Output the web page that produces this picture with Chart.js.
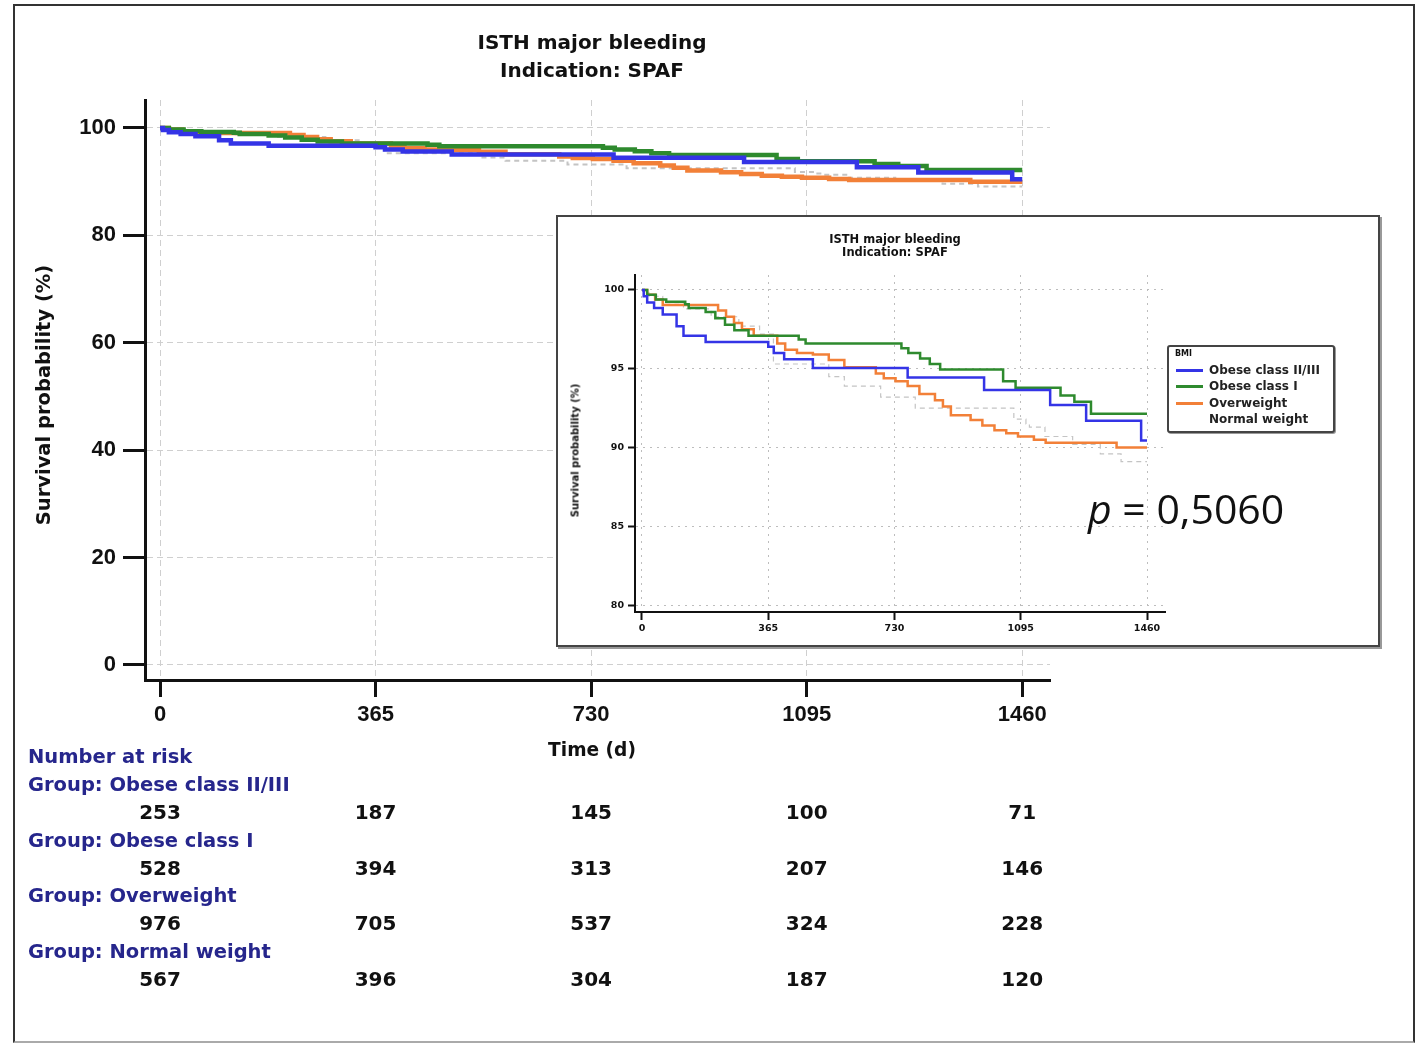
<!DOCTYPE html>
<html>
<head>
<meta charset="utf-8">
<script src="https://cdn.jsdelivr.net/npm/chart.js@4.4.1/dist/chart.umd.min.js"></script>
<style>
body{margin:0;background:#fff;font-family:"DejaVu Sans",Verdana,sans-serif;}
#page{position:relative;width:1427px;height:1045px;overflow:hidden;background:#fff;}
.abs{position:absolute;}
.frame{left:13px;top:4px;width:1398px;height:1035px;border:2px solid #333;border-bottom-color:#aaa;}
.title{left:342px;top:28px;width:500px;text-align:center;font-weight:bold;font-size:20px;line-height:28px;color:#111;}
.ytitle{left:-156px;top:383px;width:400px;height:24px;line-height:24px;text-align:center;font-weight:bold;font-size:19.5px;color:#111;transform:rotate(-90deg);}
.xtitle{left:492px;top:738px;width:200px;text-align:center;font-weight:bold;font-size:18.6px;line-height:24px;color:#111;}
.risk{font-weight:bold;font-size:19.5px;line-height:24px;color:#26268c;white-space:nowrap;}
.num{font-weight:bold;font-size:20px;line-height:24px;color:#111;transform:translateX(-50%);}
.inbox{left:556px;top:215px;width:820px;height:428px;border:2px solid #444;background:#fff;box-shadow:2px 2px 0 #999;}
.intitle{left:795px;top:233px;width:200px;text-align:center;font-weight:bold;font-size:11.5px;line-height:13px;color:#111;}
.inytitle{left:475px;top:444px;width:200px;height:13px;line-height:13px;text-align:center;font-weight:bold;font-size:10px;color:#111;transform:rotate(-90deg);}
.legend{left:1167px;top:345px;width:164px;height:84px;border:2px solid #444;border-radius:3px;box-shadow:1px 1px 0 #999;background:#fff;}
.legend .lt{position:absolute;left:6px;top:2px;font-weight:bold;font-size:8px;color:#111;}
.legend .row{position:absolute;left:7px;height:16px;width:156px;}
.legend .sw{position:absolute;left:0;top:7px;width:27px;height:3px;}
.legend .tx{position:absolute;left:33px;top:0;font-weight:bold;font-size:12px;line-height:16px;color:#222;white-space:nowrap;}
.pval{left:1088px;top:488px;font-family:"Open Sans","Noto Sans",sans-serif;font-size:41px;line-height:41px;color:#111;white-space:nowrap;}
</style>
</head>
<body>
<div id="page">
  <div class="abs frame"></div>
  <div class="abs" style="left:0;top:0;width:1427px;height:1045px;"><canvas id="main"></canvas></div>
  <div class="abs title">ISTH major bleeding<br>Indication: SPAF</div>
  <div class="abs ytitle">Survival probability (%)</div>
  <div class="abs xtitle">Time (d)</div>
  <div id="table"></div>

  <div class="abs inbox"></div>
  <div class="abs" style="left:556px;top:215px;width:824px;height:432px;"><canvas id="inset"></canvas></div>
  <div class="abs intitle">ISTH major bleeding<br>Indication: SPAF</div>
  <div class="abs inytitle">Survival probability (%)</div>
  <div class="abs legend" id="legend"><div class="lt">BMI</div></div>
  <div class="abs pval"><i>p</i> = 0,5060</div>
</div>
<script>
// axis ticks
const timeTicks = [0, 365, 730, 1095, 1460]
const survTicks = [0, 20, 40, 60, 80, 100]
const insetTicks = [80, 85, 90, 95, 100]

const groups = ['Obese class II/III', 'Obese class I', 'Overweight', 'Normal weight']
const colors = ['#3434e6', '#2e8a2e', '#f28038', '#c4c4c4']

// Kaplan-Meier steps (time in days, survival %)
const obese23T = [0, 5, 15, 35, 60, 100, 120, 184, 365, 381, 411, 494, 768, 989, 1180, 1284, 1443, 1460]
const obese23S = [100, 99.6, 99.2, 98.85, 98.45, 97.7, 97.1, 96.7, 96.4, 96.0, 95.6, 95.05, 94.45, 93.65, 92.7, 91.7, 90.45, 90.45]

const obese1T = [0, 15, 40, 70, 125, 135, 184, 212, 240, 267, 308, 453, 473, 750, 770, 804, 832, 862, 1044, 1080, 1210, 1250, 1298, 1460]
const obese1S = [100, 99.7, 99.4, 99.25, 99.1, 98.85, 98.6, 98.2, 97.8, 97.45, 97.1, 96.85, 96.6, 96.3, 96.0, 95.65, 95.3, 94.95, 94.2, 93.8, 93.3, 92.9, 92.15, 92.15]

const overT = [0, 15, 38, 60, 220, 243, 266, 289, 323, 391, 414, 448, 494, 540, 585, 676, 699, 733, 768, 802, 847, 870, 893, 950, 984, 1019, 1053, 1087, 1133, 1167, 1372, 1460]
const overS = [100, 99.7, 99.4, 99.05, 98.7, 98.3, 97.9, 97.5, 97.1, 96.6, 96.2, 96.0, 95.9, 95.55, 95.1, 94.7, 94.4, 94.2, 93.9, 93.4, 93.0, 92.6, 92.05, 91.75, 91.4, 91.1, 90.9, 90.7, 90.5, 90.3, 90.0, 90.0]

const normalT = [0, 20, 60, 120, 200, 280, 340, 380, 540, 585, 690, 790, 1075, 1110, 1120, 1165, 1245, 1325, 1385, 1460]
const normalS = [100, 99.6, 99.2, 98.8, 98.3, 97.7, 97.2, 95.3, 94.5, 93.9, 93.2, 92.5, 91.8, 91.5, 91.3, 90.7, 90.2, 89.6, 89.1, 89.1]

// number at risk at each time tick
const riskObese23 = [253, 187, 145, 100, 71]
const riskObese1 = [528, 394, 313, 207, 146]
const riskOver = [976, 705, 537, 324, 228]
const riskNormal = [567, 396, 304, 187, 120]

const curvesT = [obese23T, obese1T, overT, normalT]
const curvesS = [obese23S, obese1S, overS, normalS]
const risks = [riskObese23, riskObese1, riskOver, riskNormal]

const fam = '"Liberation Sans", Arial, sans-serif'
const famInset = '"DejaVu Sans", Verdana, sans-serif'

function makeSets(width, grayWidth) {
  let sets = []
  for (let i = 0; i < groups.length; i++) {
    let gray = i == 3
    sets.push({
      label: groups[i],
      data: curvesT[i].map((t, k) => ({x: t, y: curvesS[i][k]})),
      borderColor: colors[i],
      borderWidth: gray ? grayWidth : width,
      borderDash: gray ? [5, 4] : [],
      stepped: true,
      pointRadius: 0,
      fill: false,
      order: gray ? 10 : i
    })
  }
  return sets
}

function axis(opts) {
  return {
    type: 'linear',
    min: opts.min,
    max: opts.max,
    afterBuildTicks: s => { s.ticks = opts.ticks.map(v => ({value: v})) },
    afterFit: s => { if (opts.h) s.height = opts.h; if (opts.w) s.width = opts.w },
    grid: {color: opts.gridColor, lineWidth: 1, tickLength: opts.tl, tickColor: '#111', tickWidth: opts.bw},
    border: {display: true, color: '#111', width: opts.bw, dash: opts.dash},
    ticks: {
      font: {family: opts.fam || fam, size: opts.fs, weight: 'bold'},
      color: '#111',
      padding: opts.pad,
      maxRotation: 0,
      autoSkip: false,
      callback: v => String(v)
    }
  }
}

let mainChart = new Chart(document.getElementById('main'), {
  type: 'line',
  data: {datasets: makeSets(4.5, 2)},
  options: {
    responsive: true,
    maintainAspectRatio: false,
    animation: false,
    layout: {padding: {left: 0, top: 100, right: 377, bottom: 305}},
    plugins: {legend: {display: false}, tooltip: {enabled: false}},
    scales: {
      x: axis({min: -25.4, max: 1507, ticks: timeTicks, h: 60, tl: 17, bw: 3, fs: 22, pad: 5, gridColor: '#cfcfcf', dash: [6, 4]}),
      y: axis({min: -2.8, max: 105.2, ticks: survTicks, w: 145, tl: 22, bw: 3, fs: 22, pad: 7, gridColor: '#cfcfcf', dash: [6, 4]})
    }
  }
})

new Chart(document.getElementById('inset'), {
  type: 'line',
  data: {datasets: makeSets(2.5, 1.2)},
  options: {
    responsive: true,
    maintainAspectRatio: false,
    animation: false,
    layout: {padding: {left: 0, top: 60, right: 215, bottom: 5}},
    plugins: {legend: {display: false}, tooltip: {enabled: false}},
    scales: {
      x: axis({min: -20.2, max: 1512, ticks: timeTicks, h: 30, tl: 8, bw: 2, fs: 9.5, fam: famInset, pad: 3, gridColor: '#bdbdbd', dash: [2, 5]}),
      y: axis({min: 79.56, max: 100.95, ticks: insetTicks, w: 79, tl: 7, bw: 2, fs: 9.5, fam: famInset, pad: 4, gridColor: '#bdbdbd', dash: [2, 5]})
    }
  }
})

// legend of the inset
let legend = document.getElementById('legend')
groups.forEach((g, i) => {
  let row = document.createElement('div')
  row.className = 'row'
  row.style.top = (15 + i * 16.3) + 'px'
  row.innerHTML = '<div class="sw" style="background:' + (i == 3 ? 'transparent' : colors[i]) + '"></div><div class="tx">' + g + '</div>'
  legend.appendChild(row)
})

// number at risk table, numbers under the time ticks
let table = document.getElementById('table')
let head = document.createElement('div')
head.className = 'abs risk'
head.style.left = '28px'
head.style.top = '745px'
head.textContent = 'Number at risk'
table.appendChild(head)
groups.forEach((g, i) => {
  let y = 773 + i * 55.7
  let lab = document.createElement('div')
  lab.className = 'abs risk'
  lab.style.left = '28px'
  lab.style.top = y + 'px'
  lab.textContent = 'Group: ' + g
  table.appendChild(lab)
  risks[i].forEach((n, k) => {
    let d = document.createElement('div')
    d.className = 'abs num'
    d.style.left = mainChart.scales.x.getPixelForValue(timeTicks[k]) + 'px'
    d.style.top = (y + 27) + 'px'
    d.textContent = n
    table.appendChild(d)
  })
})
</script>
</body>
</html>
